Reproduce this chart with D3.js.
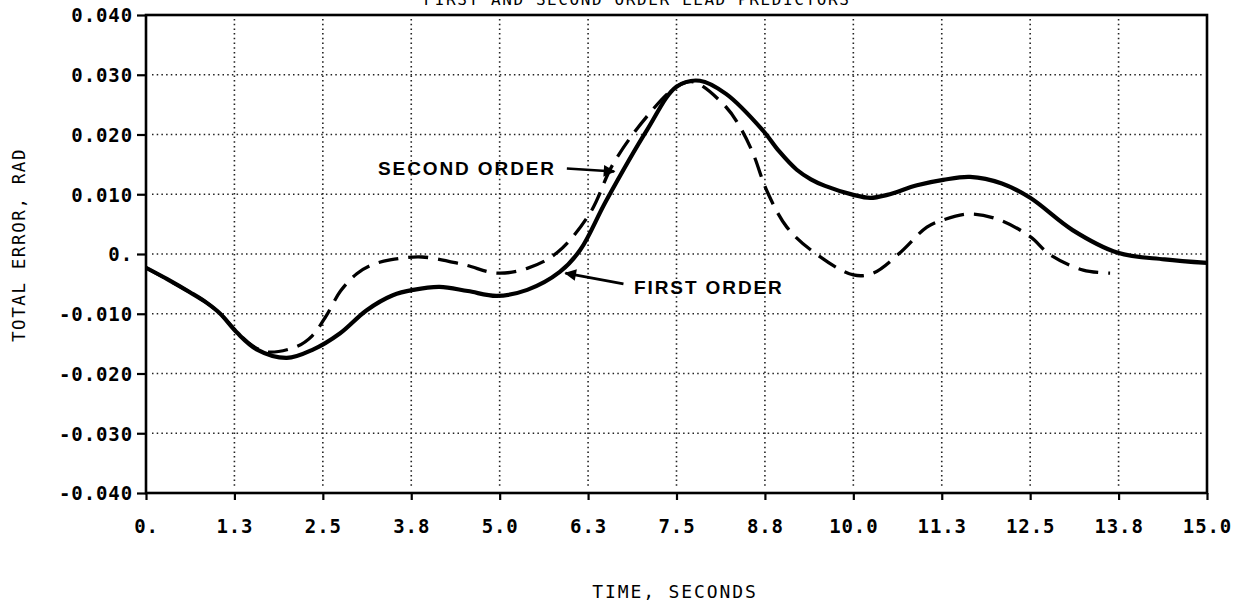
<!DOCTYPE html>
<html><head><meta charset="utf-8">
<script src="https://cdn.jsdelivr.net/npm/d3@7"></script>
<style>body{margin:0;background:#fff}svg{display:block}</style>
</head><body>
<svg id="c" width="1234" height="610"></svg>
<script>
const xTicks = [0, 1.25, 2.5, 3.75, 5, 6.25, 7.5, 8.75, 10, 11.25, 12.5, 13.75, 15];
const xTickLabels = ["0.", "1.3", "2.5", "3.8", "5.0", "6.3", "7.5", "8.8", "10.0", "11.3", "12.5", "13.8", "15.0"];
const yTicks = [-0.04, -0.03, -0.02, -0.01, 0, 0.01, 0.02, 0.03, 0.04];
const yTickLabels = ["-0.040", "-0.030", "-0.020", "-0.010", "0.", "0.010", "0.020", "0.030", "0.040"];

const firstOrderT = [0, 0.3, 0.62, 0.85, 1.05, 1.29, 1.57, 1.99, 2.36, 2.74, 3.12, 3.49, 3.78, 4.15, 4.55, 4.96, 5.39, 5.85, 6.14, 6.5, 7.08, 7.5, 7.83, 8.2, 8.72, 8.95, 9.2, 9.4, 9.6, 10.0, 10.24, 10.48, 10.9, 11.27, 11.65, 12.1, 12.5, 13.1, 13.74, 14.4, 15.0];
const firstOrderV = [-0.0023, -0.0042, -0.0064, -0.0081, -0.0100, -0.0132, -0.0160, -0.0174, -0.0160, -0.0133, -0.0094, -0.0069, -0.0060, -0.0055, -0.0062, -0.0070, -0.0060, -0.0030, 0.0007, 0.0088, 0.0207, 0.0280, 0.0290, 0.0268, 0.0207, 0.0172, 0.0141, 0.0125, 0.0114, 0.0099, 0.0094, 0.0099, 0.0115, 0.0124, 0.0129, 0.0118, 0.0094, 0.0040, 0.0002, -0.0009, -0.0015];

const secondOrderT = [0, 0.62, 0.85, 1.05, 1.29, 1.5, 1.71, 2.13, 2.35, 2.55, 2.75, 2.98, 3.2, 3.45, 3.9, 4.5, 4.96, 5.39, 5.81, 6.28, 6.6, 7.08, 7.5, 7.74, 8.2, 8.4, 8.58, 8.78, 9.06, 9.43, 10.0, 10.28, 10.66, 11.04, 11.27, 11.65, 12.07, 12.5, 12.78, 13.25, 13.63];
const secondOrderV = [-0.0023, -0.0064, -0.0081, -0.0100, -0.0131, -0.0153, -0.0164, -0.0155, -0.0137, -0.0103, -0.0062, -0.0033, -0.0018, -0.0010, -0.0005, -0.0018, -0.0032, -0.0024, 0.0002, 0.0069, 0.0150, 0.0230, 0.0280, 0.0288, 0.0246, 0.0212, 0.0169, 0.0105, 0.0045, 0.0004, -0.0035, -0.0032, 0.0002, 0.0045, 0.0057, 0.0067, 0.0057, 0.0029, -0.0001, -0.0027, -0.0032];

const title = "FIRST AND SECOND ORDER LEAD PREDICTORS";
const xTitle = "TIME, SECONDS";
const yTitle = "TOTAL ERROR, RAD";
const annotSecond = {text: "SECOND ORDER", tx: 3.28, ty: 0.0143, x1: 5.95, y1: 0.0143, x2: 6.62, y2: 0.0138};
const annotFirst = {text: "FIRST ORDER", tx: 6.9, ty: -0.0055, x1: 6.75, y1: -0.0050, x2: 5.93, y2: -0.0032};

const svg = d3.select("#c");
const L = 146, R = 1207, T = 15, B = 493;
const x = d3.scaleLinear().domain([0, 15]).range([L, R]);
const y = d3.scaleLinear().domain([-0.04, 0.04]).range([B, T]);
const mono = "'DejaVu Sans Mono', monospace";

// grid
const grid = svg.append("g").attr("stroke", "#222").attr("stroke-width", 1.6).attr("stroke-dasharray", "1.5,3.2");
grid.selectAll(".gv").data(xTicks.slice(1, -1)).join("line")
  .attr("x1", d => x(d)).attr("x2", d => x(d)).attr("y1", T + 4).attr("y2", B - 4);
grid.selectAll(".gh").data(yTicks.slice(1, -1)).join("line")
  .attr("y1", d => y(d)).attr("y2", d => y(d)).attr("x1", L + 6).attr("x2", R - 4);

// axes
const xAxis = d3.axisBottom(x).tickValues(xTicks).tickSize(7).tickFormat((d, i) => xTickLabels[i]);
const yAxis = d3.axisLeft(y).tickValues(yTicks).tickSize(9).tickFormat((d, i) => yTickLabels[i]);
const gx = svg.append("g").attr("transform", `translate(0,${B})`).call(xAxis);
const gy = svg.append("g").attr("transform", `translate(${L},0)`).call(yAxis);
[gx, gy].forEach(g => {
  g.select(".domain").remove();
  g.attr("font-size", null);
  g.selectAll("line").attr("stroke", "#000").attr("stroke-width", 2.2);
  g.selectAll("text").attr("fill", "#000").style("font-family", mono).style("font-weight", "bold")
    .style("font-size", "19px").style("letter-spacing", "0.9px");
});
gx.selectAll("text").attr("dy", "1.6em").attr("text-anchor", "middle");
gy.selectAll("text").attr("dy", "0.36em").attr("x", -13);

// frame
svg.append("rect").attr("x", L).attr("y", T).attr("width", R - L).attr("height", B - T)
  .attr("fill", "none").attr("stroke", "#000").attr("stroke-width", 2.6);

// curves
const line = d3.line().x(d => x(d[0])).y(d => y(d[1])).curve(d3.curveCatmullRom.alpha(0.5));
const firstData = firstOrderT.map((t, i) => [t, firstOrderV[i]]);
const secondData = secondOrderT.map((t, i) => [t, secondOrderV[i]]);
svg.append("path").datum(secondData).attr("d", line).attr("fill", "none").attr("stroke", "#000")
  .attr("stroke-width", 3.3).attr("stroke-dasharray", "20,10");
svg.append("path").datum(firstData).attr("d", line).attr("fill", "none").attr("stroke", "#000")
  .attr("stroke-width", 4.2);

// annotations
svg.append("defs").append("marker").attr("id", "ah").attr("viewBox", "0 0 10 10")
  .attr("refX", 9).attr("refY", 5).attr("markerWidth", 6).attr("markerHeight", 4.5)
  .attr("markerUnits", "strokeWidth").attr("orient", "auto")
  .append("path").attr("d", "M0,0 L10,5 L0,10 Z").attr("fill", "#000");
[annotSecond, annotFirst].forEach(a => {
  svg.append("text").attr("x", x(a.tx)).attr("y", y(a.ty)).attr("dy", "0.36em")
    .attr("font-family", "'Liberation Sans', Arial, sans-serif").attr("font-weight", "bold")
    .attr("font-size", 19).attr("letter-spacing", "1.9px").attr("fill", "#000").text(a.text);
  svg.append("line").attr("x1", x(a.x1)).attr("y1", y(a.y1)).attr("x2", x(a.x2)).attr("y2", y(a.y2))
    .attr("stroke", "#000").attr("stroke-width", 2.6).attr("marker-end", "url(#ah)");
});

// titles
svg.append("text").attr("x", 637).attr("y", 4.5).attr("text-anchor", "middle")
  .attr("font-family", mono).attr("font-size", 16).attr("letter-spacing", "1.6px").attr("fill", "#000").text(title);
svg.append("text").attr("x", 675).attr("y", 598).attr("text-anchor", "middle")
  .attr("font-family", mono).attr("font-size", 18).attr("letter-spacing", "1.9px").attr("fill", "#000").text(xTitle);
svg.append("text").attr("transform", "translate(25,245) rotate(-90)").attr("text-anchor", "middle")
  .attr("font-family", mono).attr("font-size", 17.5).attr("letter-spacing", "1.6px").attr("fill", "#000").text(yTitle);
</script>
</body></html>
